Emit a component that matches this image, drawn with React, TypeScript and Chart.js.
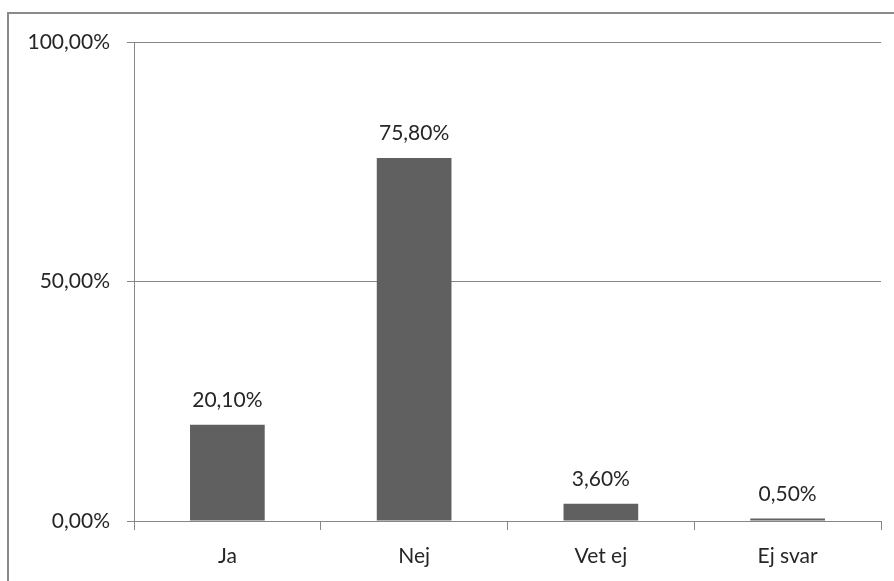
import React, { useEffect, useRef } from "react";
import { Chart, registerables } from "chart.js";

Chart.register(...registerables);

const categories = ["Ja", "Nej", "Vet ej", "Ej svar"];
const values = [20.1, 75.8, 3.6, 0.5];
const yTicks = [0, 50, 100];

const FONT = "Lato";
const TEXT = "#262626";
const LINE = "#868686";
const BAR = "#606060";

const fmt = (v: number) => v.toFixed(2).replace(".", ",") + "%";

const borderPlugin = {
  id: "outerBorder",
  beforeDraw(chart: any) {
    const ctx = chart.ctx;
    ctx.save();
    ctx.strokeStyle = "#8a8a8a";
    ctx.lineWidth = 2;
    ctx.strokeRect(8, 13, 1000, 1000);
    ctx.restore();
  },
};

const labelPlugin = {
  id: "barLabels",
  afterDatasetsDraw(chart: any) {
    const ctx = chart.ctx;
    const meta = chart.getDatasetMeta(0);
    ctx.save();
    ctx.fillStyle = TEXT;
    ctx.font = `21px ${FONT}`;
    ctx.textAlign = "center";
    ctx.textBaseline = "alphabetic";
    meta.data.forEach((el: any, i: number) => {
      ctx.fillText(fmt(values[i]), el.x, el.y - 18);
    });
    ctx.restore();
  },
};

export default function App() {
  const ref = useRef<HTMLCanvasElement>(null);
  useEffect(() => {
    if (!ref.current) return;
    const chart = new Chart(ref.current, {
      type: "bar",
      data: {
        labels: categories,
        datasets: [
          {
            data: values,
            backgroundColor: BAR,
            borderWidth: 0,
            categoryPercentage: 1,
            barPercentage: 0.4,
          },
        ],
      },
      options: {
        animation: false,
        responsive: true,
        maintainAspectRatio: false,
        layout: { padding: { left: 0, right: 13, top: 42, bottom: 0 } },
        plugins: { legend: { display: false }, tooltip: { enabled: false } },
        scales: {
          x: {
            grid: {
              drawOnChartArea: false,
              drawTicks: true,
              tickLength: 9,
              color: LINE,
              offset: true,
            },
            border: { color: LINE, width: 1 },
            ticks: {
              color: TEXT,
              font: { family: FONT, size: 21 },
              padding: 14,
            },
            afterFit(scale: any) {
              scale.height = 60;
            },
          },
          y: {
            min: 0,
            max: 100,
            afterBuildTicks(scale: any) {
              scale.ticks = yTicks.map((v) => ({ value: v }));
            },
            grid: { color: LINE, tickLength: 7, lineWidth: 1 },
            border: { color: LINE, width: 1 },
            ticks: {
              color: TEXT,
              font: { family: FONT, size: 21 },
              padding: 17,
              callback: (v: any) => fmt(Number(v)),
            },
            afterFit(scale: any) {
              scale.width = 134;
            },
          },
        },
      },
      plugins: [borderPlugin, labelPlugin],
    });
    return () => chart.destroy();
  }, []);
  return (
    <div
      style={{
        position: "fixed",
        left: 0,
        top: 0,
        width: 894,
        height: 581,
        background: "#fff",
      }}
    >
      <canvas ref={ref} />
    </div>
  );
}
